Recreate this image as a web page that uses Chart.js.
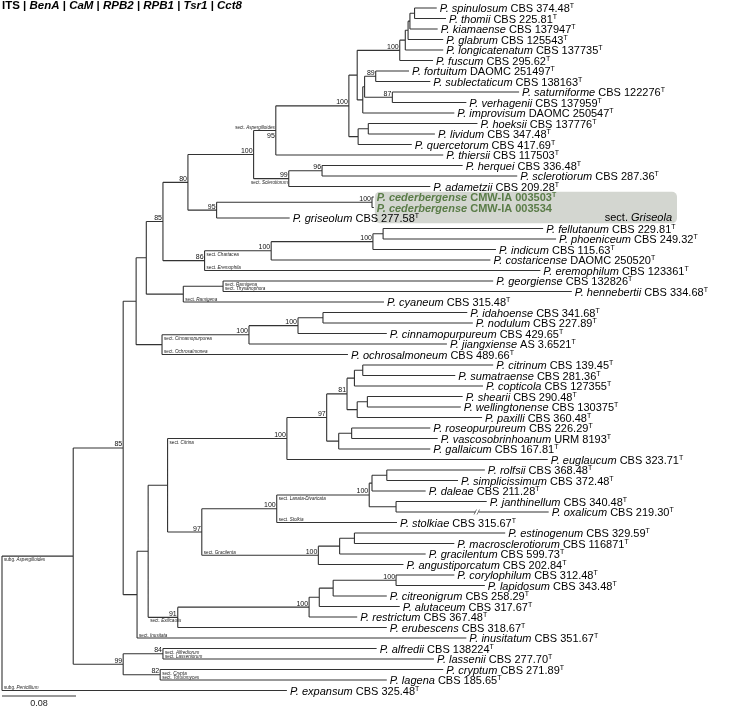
<!DOCTYPE html>
<html>
<head>
<meta charset="utf-8">
<script src="https://cdn.jsdelivr.net/npm/chart.js@4.4.1/dist/chart.umd.min.js"></script>
<style>
  html, body { margin: 0; padding: 0; background: #fff; }
  canvas { display: block; }
</style>
</head>
<body>
<canvas id="tree" width="756" height="708"></canvas>
<script>
const genes = ['ITS', 'BenA', 'CaM', 'RPB2', 'RPB1', 'Tsr1', 'Cct8'];

const species = [
  'P. spinulosum', 'P. thomii', 'P. kiamaense', 'P. glabrum', 'P. longicatenatum', 'P. fuscum',
  'P. fortuitum', 'P. sublectaticum', 'P. saturniforme', 'P. verhagenii', 'P. improvisum',
  'P. hoeksii', 'P. lividum', 'P. quercetorum', 'P. thiersii', 'P. herquei', 'P. sclerotiorum',
  'P. adametzii', 'P. cederbergense', 'P. cederbergense', 'P. griseolum', 'P. fellutanum',
  'P. phoeniceum', 'P. indicum', 'P. costaricense', 'P. eremophilum', 'P. georgiense',
  'P. hennebertii', 'P. cyaneum', 'P. idahoense', 'P. nodulum', 'P. cinnamopurpureum',
  'P. jiangxiense', 'P. ochrosalmoneum', 'P. citrinum', 'P. sumatraense', 'P. copticola',
  'P. shearii', 'P. wellingtonense', 'P. paxilli', 'P. roseopurpureum', 'P. vascosobrinhoanum',
  'P. gallaicum', 'P. euglaucum', 'P. rolfsii', 'P. simplicissimum', 'P. daleae',
  'P. janthinellum', 'P. oxalicum', 'P. stolkiae', 'P. estinogenum', 'P. macrosclerotiorum',
  'P. gracilentum', 'P. angustiporcatum', 'P. corylophilum', 'P. lapidosum', 'P. citreonigrum',
  'P. alutaceum', 'P. restrictum', 'P. erubescens', 'P. inusitatum', 'P. alfredii',
  'P. lassenii', 'P. cryptum', 'P. lagena', 'P. expansum'
];

const strains = [
  'CBS 374.48', 'CBS 225.81', 'CBS 137947', 'CBS 125543', 'CBS 137735', 'CBS 295.62',
  'DAOMC 251497', 'CBS 138163', 'CBS 122276', 'CBS 137959', 'DAOMC 250547',
  'CBS 137776', 'CBS 347.48', 'CBS 417.69', 'CBS 117503', 'CBS 336.48', 'CBS 287.36',
  'CBS 209.28', 'CMW-IA 003503', 'CMW-IA 003534', 'CBS 277.58', 'CBS 229.81',
  'CBS 249.32', 'CBS 115.63', 'DAOMC 250520', 'CBS 123361', 'CBS 132826',
  'CBS 334.68', 'CBS 315.48', 'CBS 341.68', 'CBS 227.89', 'CBS 429.65',
  'AS 3.6521', 'CBS 489.66', 'CBS 139.45', 'CBS 281.36', 'CBS 127355',
  'CBS 290.48', 'CBS 130375', 'CBS 360.48', 'CBS 226.29', 'URM 8193',
  'CBS 167.81', 'CBS 323.71', 'CBS 368.48', 'CBS 372.48', 'CBS 211.28',
  'CBS 340.48', 'CBS 219.30', 'CBS 315.67', 'CBS 329.59', 'CBS 116871',
  'CBS 599.73', 'CBS 202.84', 'CBS 312.48', 'CBS 343.48', 'CBS 258.29',
  'CBS 317.67', 'CBS 367.48', 'CBS 318.67', 'CBS 351.67', 'CBS 138224',
  'CBS 277.70', 'CBS 271.89', 'CBS 185.65', 'CBS 325.48'
];

// ex-type strains get the superscript T
const exType = species.map((s, i) => i !== 19);

// new species of this study
const newTaxa = [18, 19];

// distance from root to each tip (substitutions/site)
const tipDepth = [
  0.470, 0.480, 0.471, 0.477, 0.477, 0.466,
  0.440, 0.463, 0.559, 0.502, 0.489,
  0.514, 0.468, 0.443, 0.477, 0.498, 0.557,
  0.463, 0.402, 0.402, 0.311, 0.585,
  0.599, 0.534, 0.528, 0.582, 0.531,
  0.616, 0.413, 0.503, 0.509, 0.416,
  0.481, 0.374, 0.531, 0.490, 0.520,
  0.498, 0.496, 0.519, 0.463, 0.471,
  0.463, 0.590, 0.522, 0.493, 0.458,
  0.524, 0.591, 0.427, 0.544, 0.489,
  0.458, 0.434, 0.489, 0.522, 0.416,
  0.430, 0.384, 0.416, 0.502, 0.405,
  0.467, 0.477, 0.416, 0.308
];

// internal nodes: first tip, last tip, depth from root, bootstrap
const clades = [
  [0, 1, 0.446, ''], [0, 2, 0.441, ''], [0, 3, 0.439, ''], [0, 4, 0.436, ''], [0, 5, 0.430, '100'],
  [6, 7, 0.404, '89'], [8, 9, 0.422, '87'], [6, 9, 0.392, ''], [6, 10, 0.390, ''],
  [0, 10, 0.384, ''], [11, 12, 0.396, ''], [11, 13, 0.385, ''], [0, 13, 0.375, '100'],
  [0, 14, 0.296, '95'], [15, 16, 0.346, '96'], [15, 17, 0.310, '99'], [0, 17, 0.272, '100'],
  [18, 19, 0.400, '100'], [18, 20, 0.232, '95'], [0, 20, 0.201, '80'],
  [21, 22, 0.412, ''], [21, 23, 0.401, '100'], [21, 24, 0.291, '100'], [21, 25, 0.219, '86'],
  [0, 25, 0.174, '85'], [26, 27, 0.239, ''], [26, 28, 0.196, ''], [0, 28, 0.156, ''],
  [29, 30, 0.347, ''], [29, 31, 0.320, '100'], [29, 32, 0.267, '100'], [29, 33, 0.173, ''],
  [0, 33, 0.145, ''],
  [34, 35, 0.390, ''], [34, 36, 0.381, ''], [37, 38, 0.395, ''], [37, 39, 0.384, ''],
  [34, 39, 0.373, '81'], [40, 41, 0.378, ''], [40, 42, 0.364, ''], [34, 42, 0.351, '97'],
  [34, 43, 0.308, '100'],
  [44, 45, 0.416, ''], [44, 46, 0.400, ''], [47, 48, 0.426, ''], [44, 48, 0.397, '100'],
  [44, 49, 0.297, '100'], [50, 51, 0.381, ''], [50, 52, 0.365, ''], [50, 53, 0.342, '100'],
  [44, 53, 0.216, '97'], [34, 53, 0.179, ''],
  [54, 55, 0.426, '100'], [54, 56, 0.358, ''], [54, 57, 0.343, ''], [54, 58, 0.332, '100'],
  [54, 59, 0.190, '91'], [34, 59, 0.158, ''], [34, 60, 0.146, ''], [0, 60, 0.131, '85'],
  [61, 62, 0.174, '84'], [63, 64, 0.171, '82'], [61, 64, 0.131, '99'],
  [0, 64, 0.077, ''], [0, 65, 0.000, '']
];

// rank, name, first tip, last tip, side of the branch, written at the node end
const sections = [
  ['subg.', 'Aspergilloides', 0, 64, 'below', false],
  ['subg.', 'Penicillium', 65, 65, 'above', false],
  ['sect.', 'Aspergilloides', 0, 14, 'above', true],
  ['sect.', 'Sclerotiorum', 15, 17, 'below', true],
  ['sect.', 'Chartacea', 21, 24, 'below', false],
  ['sect.', 'Eremophila', 25, 25, 'above', false],
  ['sect.', 'Ramigena', 26, 26, 'below', false],
  ['sect.', 'Thysanophora', 27, 27, 'above', false],
  ['sect.', 'Ramigena', 28, 28, 'above', false],
  ['sect.', 'Cinnamopurpurea', 29, 32, 'below', false],
  ['sect.', 'Ochrosalmonea', 33, 33, 'above', false],
  ['sect.', 'Citrina', 34, 43, 'below', false],
  ['sect.', 'Lanata-Divaricata', 44, 48, 'below', false],
  ['sect.', 'Stolkia', 49, 49, 'above', false],
  ['sect.', 'Gracilenta', 50, 53, 'above', false],
  ['sect.', 'Exilicaulis', 54, 59, 'below', false],
  ['sect.', 'Inusitata', 60, 60, 'above', false],
  ['sect.', 'Alfrediorum', 61, 61, 'below', false],
  ['sect.', 'Lasseniorum', 62, 62, 'above', false],
  ['sect.', 'Crypta', 63, 63, 'below', false],
  ['sect.', 'Torulomyces', 64, 64, 'above', false]
];

const highlightSection = ['sect.', 'Griseola'];
const scaleBar = 0.08;
const brokenBranch = { tip: 48, at: 0.513 };

const FONT = '"Liberation Sans", Arial, Helvetica, sans-serif';
const GREEN = '#5a7c48';

// build the tree from the tip ranges
const nodes = [];
species.forEach((s, i) => nodes.push({ a: i, b: i, depth: tipDepth[i], y: i, leaf: true }));
clades.forEach(c => nodes.push({ a: c[0], b: c[1], depth: c[2], support: c[3], kids: [] }));
const inner = nodes.filter(n => !n.leaf).sort((p, q) => (p.b - p.a) - (q.b - q.a));
nodes.forEach(n => {
  n.parent = inner.find(p => p !== n && p.a <= n.a && p.b >= n.b && (p.b - p.a) > (n.b - n.a));
  if (n.parent) n.parent.kids.push(n);
});
inner.forEach(n => {
  n.kids.sort((p, q) => p.a - q.a);
  n.y = (n.kids[0].y + n.kids[n.kids.length - 1].y) / 2;
});
const findNode = (a, b) => (a === b ? nodes[a] : inner.find(n => n.a === a && n.b === b));

// branch segments, separated by gaps
const segments = [];
nodes.forEach(n => {
  if (n.parent) {
    segments.push({ x: n.parent.depth, y: n.y }, { x: n.depth, y: n.y }, { x: n.depth, y: null });
  }
  if (!n.leaf) {
    const k = n.kids;
    segments.push({ x: n.depth, y: k[0].y }, { x: n.depth, y: k[k.length - 1].y }, { x: n.depth, y: null });
  }
});

function drawRuns(ctx, runs, x, y) {
  runs.forEach(r => {
    ctx.font = r.font;
    ctx.fillStyle = r.color || '#000';
    ctx.fillText(r.text, x, y + (r.dy || 0));
    x += ctx.measureText(r.text).width;
  });
  return x;
}

function runsWidth(ctx, runs) {
  let w = 0;
  runs.forEach(r => { ctx.font = r.font; w += ctx.measureText(r.text).width; });
  return w;
}

const treeLabels = {
  id: 'treeLabels',
  beforeDatasetsDraw(chart) {
    const { ctx, scales: { x, y } } = chart;
    ctx.save();
    // highlight box for the new section
    const left = x.getPixelForValue(tipDepth[newTaxa[0]]) + 1;
    const top = y.getPixelForValue(newTaxa[0] - 0.5);
    const bottom = y.getPixelForValue(newTaxa[newTaxa.length - 1] + 1.5);
    const right = 677;
    ctx.fillStyle = '#d3d6d0';
    ctx.beginPath();
    ctx.roundRect(left, top, right - left, bottom - top, 5);
    ctx.fill();
    ctx.restore();
  },
  afterDatasetsDraw(chart) {
    const { ctx, scales: { x, y } } = chart;
    ctx.save();
    ctx.textBaseline = 'alphabetic';
    ctx.textAlign = 'left';

    // tip labels
    species.forEach((s, i) => {
      const px = x.getPixelForValue(tipDepth[i]) + 3;
      const py = y.getPixelForValue(i) + 4;
      const isNew = newTaxa.includes(i);
      const col = isNew ? GREEN : '#000';
      const w = isNew ? 'bold ' : '';
      const runs = [
        { text: s, font: w + 'italic 11px ' + FONT, color: col },
        { text: ' ' + strains[i], font: w + '11px ' + FONT, color: col }
      ];
      if (exType[i]) runs.push({ text: 'T', font: w + '7px ' + FONT, color: col, dy: -4 });
      drawRuns(ctx, runs, px, py);
    });

    // section name inside the box
    const gRuns = [
      { text: highlightSection[0] + ' ', font: '11px ' + FONT },
      { text: highlightSection[1], font: 'italic 11px ' + FONT }
    ];
    drawRuns(ctx, gRuns, 672 - runsWidth(ctx, gRuns), y.getPixelForValue(newTaxa[newTaxa.length - 1] + 1) + 2.5);

    // section labels
    const supportBelow = new Set();
    sections.forEach(([rank, name, a, b, side, atEnd]) => {
      const n = findNode(a, b);
      const runs = [
        { text: rank + ' ', font: '4.6px ' + FONT, color: '#222' },
        { text: name, font: 'italic 4.6px ' + FONT, color: '#222' }
      ];
      const ny = y.getPixelForValue(n.y);
      const py = side === 'below' ? ny + 5 : ny - 1.2;
      let px;
      if (atEnd) {
        px = x.getPixelForValue(n.depth) - 1 - runsWidth(ctx, runs);
        if (side === 'above') supportBelow.add(n);
      } else {
        px = x.getPixelForValue(n.parent.depth) + 2;
      }
      drawRuns(ctx, runs, px, py);
    });

    // bootstrap values
    ctx.textAlign = 'right';
    ctx.font = '7px ' + FONT;
    ctx.fillStyle = '#111';
    inner.forEach(n => {
      if (!n.support) return;
      const px = x.getPixelForValue(n.depth) - 1;
      const ny = y.getPixelForValue(n.y);
      ctx.fillText(n.support, px, supportBelow.has(n) ? ny + 7.5 : ny - 1.5);
    });

    // broken long branch
    const bx = x.getPixelForValue(brokenBranch.at);
    const by = y.getPixelForValue(brokenBranch.tip);
    ctx.fillStyle = '#fff';
    ctx.fillRect(bx - 1, by - 2, 3, 4);
    ctx.strokeStyle = '#444';
    ctx.lineWidth = 0.7;
    ctx.beginPath();
    ctx.moveTo(bx - 2.5, by + 2.5); ctx.lineTo(bx, by - 2.5);
    ctx.moveTo(bx + 0.5, by + 2.5); ctx.lineTo(bx + 3, by - 2.5);
    ctx.stroke();

    // scale bar
    const sy = y.getPixelForValue(species.length - 1) + 5.5;
    const s0 = x.getPixelForValue(0);
    const s1 = x.getPixelForValue(scaleBar);
    ctx.strokeStyle = '#777';
    ctx.lineWidth = 1.5;
    ctx.beginPath();
    ctx.moveTo(s0, sy); ctx.lineTo(s1, sy);
    ctx.stroke();
    ctx.textAlign = 'center';
    ctx.font = '9px ' + FONT;
    ctx.fillStyle = '#222';
    ctx.fillText(String(scaleBar), (s0 + s1) / 2, sy + 9.5);

    // gene list
    ctx.textAlign = 'left';
    const titleRuns = [];
    genes.forEach((g, i) => {
      if (i > 0) titleRuns.push({ text: ' | ', font: 'bold 11.5px ' + FONT });
      titleRuns.push({ text: g, font: (i === 0 ? 'bold ' : 'bold italic ') + '11.5px ' + FONT });
    });
    drawRuns(ctx, titleRuns, 2, 9);
    ctx.restore();
  }
};

new Chart(document.getElementById('tree').getContext('2d'), {
  type: 'line',
  data: {
    datasets: [{
      data: segments,
      borderColor: '#333',
      borderWidth: 1.1,
      pointRadius: 0,
      pointHoverRadius: 0,
      spanGaps: false,
      tension: 0
    }]
  },
  options: {
    responsive: false,
    animation: false,
    events: [],
    layout: { padding: 0, autoPadding: false },
    scales: {
      x: { type: 'linear', display: false, min: -2 / 925, max: 754 / 925 },
      y: { type: 'linear', display: false, reverse: true, min: -8 / 10.5, max: 700 / 10.5 }
    },
    plugins: {
      legend: { display: false },
      tooltip: { enabled: false }
    }
  },
  plugins: [treeLabels]
});
</script>
</body>
</html>
